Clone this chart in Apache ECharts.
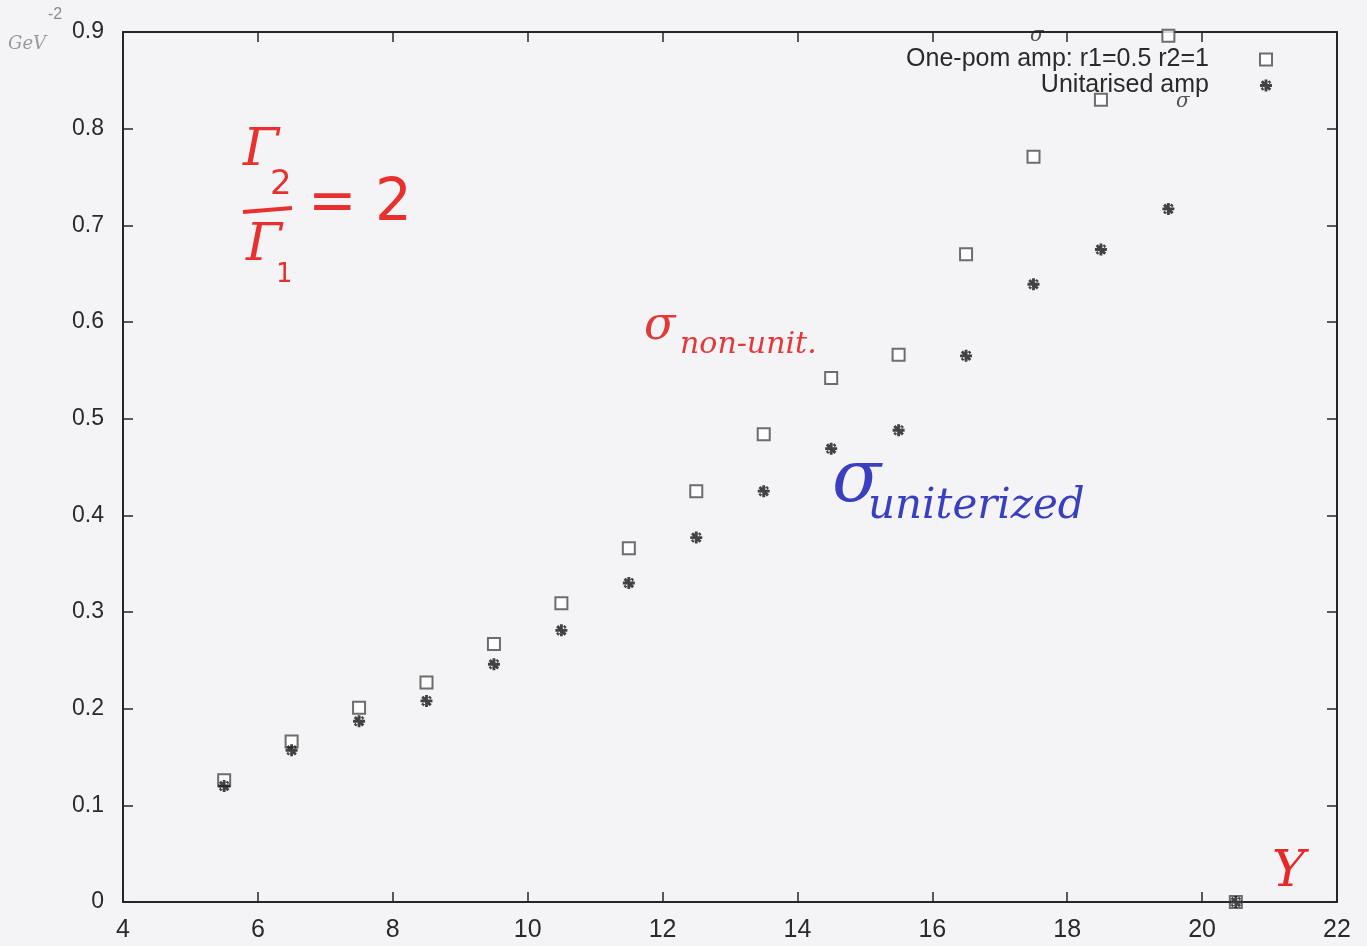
<!DOCTYPE html>
<html>
<head>
<meta charset="utf-8">
<script src="https://cdn.jsdelivr.net/npm/echarts@6/dist/echarts.min.js"></script>
<style>
html,body{margin:0;padding:0;background:#f4f4f6;}
#chart{width:1367px;height:946px;}
</style>
</head>
<body>
<div id="chart"></div>
<script>
// Data
const xValues = [5.5, 6.5, 7.5, 8.5, 9.5, 10.5, 11.5, 12.5, 13.5, 14.5, 15.5, 16.5, 17.5, 18.5, 19.5, 20.5];
const onePomAmp = [0.126, 0.166, 0.201, 0.227, 0.267, 0.309, 0.366, 0.425, 0.484, 0.542, 0.566, 0.670, 0.771, 0.830, 0.896, 0.0];
const unitarisedAmp = [0.120, 0.157, 0.187, 0.208, 0.246, 0.281, 0.330, 0.377, 0.425, 0.469, 0.488, 0.565, 0.639, 0.675, 0.717, 0.0];
const seriesNames = ['One-pom amp: r1=0.5 r2=1', 'Unitarised amp'];
const xTicks = [4, 6, 8, 10, 12, 14, 16, 18, 20, 22];
const yTicks = [0, 0.1, 0.2, 0.3, 0.4, 0.5, 0.6, 0.7, 0.8, 0.9];

const pairs = (xs, ys) => xs.map((x, i) => [x, ys[i]]);
const starPath = 'path://M-5,-1.2H5V1.2H-5Z M-1.2,-5H1.2V5H-1.2Z M-4.4,-2.7L-2.7,-4.4L4.4,2.7L2.7,4.4Z M4.4,-2.7L2.7,-4.4L-4.4,2.7L-2.7,4.4Z M-2.5,-2.5H2.5V2.5H-2.5Z';

const chart = echarts.init(document.getElementById('chart'));
const axisColor = '#262626';
const fontFam = 'Liberation Sans, Arial, sans-serif';
const tickCommon = {show: true, inside: true, length: 10, lineStyle: {color: axisColor, width: 1.5}};

const xAxisBase = {
  type: 'value', min: xTicks[0], max: xTicks[xTicks.length - 1], interval: 2,
  splitLine: {show: false},
  axisLine: {show: true, onZero: false, lineStyle: {color: axisColor, width: 2}},
  axisTick: tickCommon
};
const yAxisBase = {
  type: 'value', min: yTicks[0], max: yTicks[yTicks.length - 1], interval: 0.1,
  splitLine: {show: false},
  axisLine: {show: true, onZero: false, lineStyle: {color: axisColor, width: 2}},
  axisTick: tickCommon
};

chart.setOption({
  backgroundColor: '#f4f4f6',
  animation: false,
  grid: {left: 123, right: 30, top: 32, bottom: 44, containLabel: false},
  xAxis: [
    Object.assign({}, xAxisBase, {position: 'bottom', axisLabel: {margin: 16, color: '#2a2a2a', fontSize: 25, fontFamily: fontFam}}),
    Object.assign({}, xAxisBase, {position: 'top', axisLabel: {show: false}})
  ],
  yAxis: [
    Object.assign({}, yAxisBase, {position: 'left', axisLabel: {margin: 19, color: '#2a2a2a', fontSize: 23, fontFamily: fontFam, formatter: v => v === 0 ? '0' : v.toFixed(1)}}),
    Object.assign({}, yAxisBase, {position: 'right', axisLabel: {show: false}})
  ],
  legend: {
    orient: 'vertical', right: 89, top: 42, align: 'right', itemGap: 1,
    itemWidth: 12, itemHeight: 12,
    textStyle: {color: '#2a2a2a', fontSize: 25, fontFamily: fontFam, width: 340, align: 'right', padding: [0, 46, 0, 0]},
    data: seriesNames
  },
  series: [
    {
      name: seriesNames[0], type: 'scatter', data: pairs(xValues, onePomAmp),
      symbol: 'emptyRect', symbolSize: 12,
      itemStyle: {color: '#4a4a4a', borderWidth: 1.8}, z: 3
    },
    {
      name: seriesNames[1], type: 'scatter', data: pairs(xValues, unitarisedAmp),
      symbol: starPath, symbolSize: 12,
      itemStyle: {color: '#151515'}, z: 4
    }
  ],
  graphic: [
    // handwritten annotations
    {type: 'text', left: 8, top: 35, style: {text: 'GeV', fill: '#9a9a9a', font: 'italic 18px DejaVu Serif'}},
    {type: 'text', left: 48, top: 7, style: {text: '-2', fill: '#8a8a8a', font: '16px Liberation Sans'}},
    {type: 'text', left: 243, top: 125, style: {text: 'Γ', fill: '#e8302f', font: 'italic 52px DejaVu Serif'}},
    {type: 'text', left: 270, top: 168, style: {text: '2', fill: '#e8302f', font: '34px DejaVu Sans'}},
    {type: 'line', shape: {x1: 243, y1: 212, x2: 292, y2: 208}, style: {stroke: '#e8302f', lineWidth: 4}},
    {type: 'text', left: 246, top: 220, style: {text: 'Γ', fill: '#e8302f', font: 'italic 52px DejaVu Serif'}},
    {type: 'text', left: 276, top: 262, style: {text: '1', fill: '#e8302f', font: '26px DejaVu Sans'}},
    {type: 'text', left: 308, top: 176, style: {text: '= 2', fill: '#e8302f', font: '58px DejaVu Sans'}},
    {type: 'text', left: 644, top: 304, style: {text: 'σ', fill: '#e23a3a', font: 'italic 46px DejaVu Serif'}},
    {type: 'text', left: 680, top: 330, style: {text: 'non-unit.', fill: '#e23a3a', font: 'italic 30px DejaVu Serif'}},
    {type: 'text', left: 832, top: 446, style: {text: 'σ', fill: '#3a3fc0', font: 'italic 72px DejaVu Serif'}},
    {type: 'text', left: 868, top: 486, style: {text: 'uniterized', fill: '#3a3fc0', font: 'italic 42px DejaVu Serif'}},
    {type: 'text', left: 1272, top: 848, style: {text: 'Y', fill: '#e82828', font: 'italic 50px DejaVu Serif'}},
    {type: 'text', left: 1030, top: 26, style: {text: 'σ', fill: '#555', font: 'italic 20px DejaVu Serif'}},
    {type: 'text', left: 1176, top: 92, style: {text: 'σ', fill: '#555', font: 'italic 20px DejaVu Serif'}}
  ]
});
</script>
</body>
</html>
